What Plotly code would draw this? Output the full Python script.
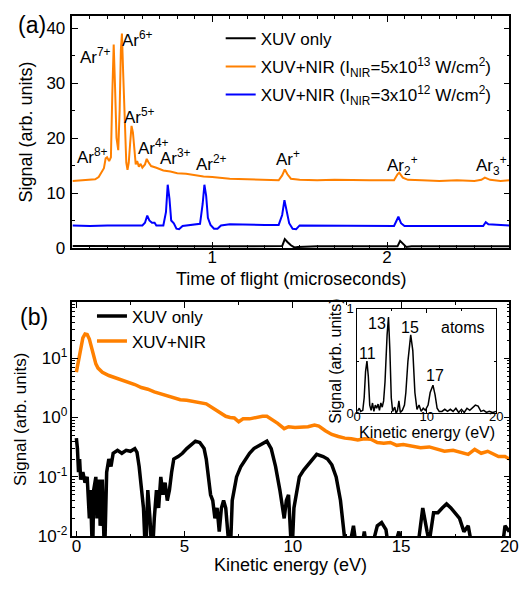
import plotly.graph_objects as go

# ---------------- (a) time-of-flight data ----------------
tof_orange_t = [0.20, 0.24, 0.28, 0.31, 0.33, 0.35, 0.365, 0.38, 0.39, 0.398, 0.41, 0.42, 0.428, 0.436, 0.443,
                0.452, 0.462, 0.47, 0.477, 0.483, 0.49, 0.50, 0.508, 0.515, 0.522, 0.53, 0.538, 0.546, 0.555,
                0.562, 0.57, 0.58, 0.59, 0.60, 0.615, 0.625, 0.635, 0.65, 0.68, 0.70, 0.72, 0.76, 0.80, 0.85,
                0.90, 0.95, 1.00, 1.05, 1.10, 1.20, 1.30, 1.38, 1.40, 1.415, 1.43, 1.45, 1.50, 1.60, 1.70,
                1.80, 1.90, 2.00, 2.04, 2.06, 2.07, 2.09, 2.12, 2.20, 2.30, 2.40, 2.50, 2.54, 2.56, 2.59, 2.65, 2.70]
tof_orange_v = [12.2, 12.3, 12.3, 12.4, 12.5, 12.9, 13.6, 14.5, 16.3, 16.5, 15.8, 16.5, 28.0, 37.0, 30.0,
                20.0, 17.8, 25.0, 36.0, 39.0, 32.0, 22.0, 15.5, 14.2, 15.5, 19.0, 22.2, 21.0, 17.5,
                15.2, 15.8, 14.8, 15.3, 14.6, 15.2, 16.2, 15.6, 14.9, 14.6, 14.4, 14.1, 13.9, 13.6, 13.5,
                13.2, 13.0, 12.9, 12.7, 12.6, 12.5, 12.4, 12.3, 13.2, 14.3, 13.4, 12.6, 12.4, 12.3, 12.4,
                12.3, 12.3, 12.3, 12.3, 13.4, 13.7, 12.8, 12.4, 12.3, 12.2, 12.3, 12.2, 12.4, 12.8, 12.4, 12.2, 12.3]

tof_blue_t = [0.20, 0.30, 0.40, 0.50, 0.60, 0.615, 0.628, 0.64, 0.655, 0.67, 0.68, 0.72, 0.735, 0.745, 0.755,
              0.765, 0.78, 0.795, 0.81, 0.83, 0.86, 0.90, 0.93, 0.945, 0.955, 0.965, 0.975, 0.99, 1.01, 1.03,
              1.05, 1.10, 1.20, 1.30, 1.38, 1.40, 1.413, 1.425, 1.44, 1.46, 1.48, 1.50, 1.60, 1.80, 2.04,
              2.055, 2.065, 2.08, 2.10, 2.30, 2.55, 2.565, 2.58, 2.70]
tof_blue_v = [4.1, 4.0, 4.1, 4.1, 4.1, 4.6, 5.9, 5.0, 4.6, 4.6, 4.1, 4.1, 6.5, 11.5, 9.0,
              5.0, 4.5, 3.5, 3.4, 4.0, 4.1, 4.2, 4.4, 8.0, 11.5, 9.5, 5.5, 4.2, 3.5, 3.5,
              4.1, 4.3, 4.2, 4.2, 4.2, 6.0, 8.7, 7.0, 4.5, 3.5, 3.4, 4.1, 4.1, 4.0, 4.0,
              5.0, 5.7, 4.5, 4.0, 4.0, 4.0, 4.7, 4.3, 4.1]

tof_black_t = [0.20, 0.50, 0.80, 1.10, 1.40, 1.415, 1.43, 1.45, 1.47, 1.49, 1.60, 1.90, 2.06, 2.075, 2.09,
               2.11, 2.14, 2.40, 2.70]
tof_black_v = [0.35, 0.30, 0.35, 0.30, 0.35, 1.6, 1.1, 0.5, 0.1, 0.2, 0.3, 0.3, 0.3, 1.3, 0.8,
               0.2, 0.3, 0.3, 0.3]

ion_labels = ["Ar<sup>8+</sup>", "Ar<sup>7+</sup>", "Ar<sup>6+</sup>", "Ar<sup>5+</sup>", "Ar<sup>4+</sup>",
              "Ar<sup>3+</sup>", "Ar<sup>2+</sup>", "Ar<sup>+</sup>", "Ar<sub>2</sub><sup>+</sup>",
              "Ar<sub>3</sub><sup>+</sup>"]
ion_label_t = [0.317, 0.333, 0.574, 0.585, 0.664, 0.792, 0.993, 1.434, 2.09, 2.60]
ion_label_v = [16.7, 35.0, 38.0, 24.0, 18.4, 16.6, 15.5, 16.4, 15.0, 15.0]

# ---------------- (b) photoelectron spectra ----------------
pes_orange_e = [0.0, 0.1, 0.2, 0.3, 0.4, 0.5, 0.6, 0.7, 0.8, 0.9, 1.0, 1.2, 1.5, 1.8, 2.1, 2.4, 2.7, 3.0, 3.3,
                3.6, 3.9, 4.2, 4.5, 4.8, 5.1, 5.4, 5.7, 6.0, 6.3, 6.6, 6.9, 7.1, 7.3, 7.5, 7.7, 8.0, 8.3, 8.6,
                8.8, 9.0, 9.3, 9.6, 9.8, 10.1, 10.4, 10.7, 11.0, 11.2, 11.5, 11.8, 12.1, 12.4, 12.7, 13.0,
                13.3, 13.6, 13.9, 14.2, 14.5, 14.8, 15.1, 15.5, 15.9, 16.3, 16.7, 17.0, 17.4, 17.8, 18.1,
                18.4, 18.7, 19.0, 19.3, 19.5, 19.8, 20.0]
pes_orange_v = [5.8, 9.0, 16.0, 22.0, 25.5, 25.0, 21.0, 15.0, 10.5, 8.0, 6.8, 5.8, 5.1, 4.7, 4.3, 3.9, 3.6, 3.2, 3.0,
                2.7, 2.5, 2.35, 2.2, 2.0, 1.95, 1.85, 1.8, 1.7, 1.45, 1.25, 1.05, 1.0, 0.98, 0.85, 0.95, 0.95, 1.0, 1.05,
                1.05, 0.95, 0.8, 0.65, 0.70, 0.68, 0.68, 0.70, 0.75, 0.72, 0.60, 0.52, 0.48, 0.45, 0.44, 0.42,
                0.44, 0.43, 0.38, 0.37, 0.38, 0.34, 0.35, 0.33, 0.31, 0.32, 0.29, 0.27, 0.28, 0.26, 0.24,
                0.29, 0.25, 0.27, 0.24, 0.22, 0.22, 0.20]

pes_black_e = [0.0, 0.05, 0.1, 0.15, 0.2, 0.3, 0.4, 0.5, 0.6, 0.65, 0.75, 0.8, 0.9, 0.95, 1.05, 1.1, 1.2, 1.3,
               1.4, 1.5, 1.6, 1.7, 1.9, 2.1, 2.3, 2.5, 2.7, 2.8, 2.9, 3.0, 3.1, 3.2, 3.3, 3.4, 3.5, 3.6, 3.7,
               3.8, 3.9, 4.0, 4.1, 4.2, 4.3, 4.4, 4.5, 4.7, 4.9, 5.1, 5.3, 5.5, 5.7, 5.9, 6.0, 6.1, 6.2, 6.3,
               6.4, 6.5, 6.6, 6.7, 6.8, 6.9, 7.0, 7.1, 7.2, 7.4, 7.6, 7.8, 8.0, 8.2, 8.5, 8.7, 8.8, 9.0, 9.2,
               9.4, 9.5, 9.6, 9.7, 9.8, 9.9, 9.95, 10.05, 10.15, 10.3, 10.5, 10.7, 10.9, 11.1, 11.4, 11.6,
               11.8, 12.0, 12.2, 12.35, 12.5, 12.8, 12.9, 13.1, 13.3, 13.5, 13.9, 14.1, 14.3, 14.5, 14.9,
               15.1, 15.6, 15.8, 16.0, 16.2, 16.3, 16.5, 16.7, 16.9, 17.1, 17.3, 17.5, 17.7, 17.9, 18.1,
               18.3, 18.6, 19.6, 19.8, 20.0]
pes_black_v = [0.45, 0.30, 0.12, 0.20, 0.09, 0.12, 0.08, 0.10, 0.02, 0.06, 0.004, 0.06, 0.10, 0.02, 0.09, 0.015, 0.09, 0.004,
               0.12, 0.20, 0.15, 0.25, 0.28, 0.25, 0.28, 0.27, 0.30, 0.26, 0.15, 0.06, 0.03, 0.004, 0.06, 0.02, 0.004, 0.02, 0.06,
               0.03, 0.10, 0.05, 0.08, 0.04, 0.06, 0.12, 0.20, 0.22, 0.25, 0.30, 0.35, 0.40, 0.38, 0.30, 0.20, 0.10, 0.05, 0.04,
               0.02, 0.03, 0.012, 0.03, 0.04, 0.03, 0.01, 0.004, 0.04, 0.10, 0.15, 0.20, 0.25, 0.30, 0.35, 0.38, 0.40, 0.30, 0.15,
               0.06, 0.035, 0.02, 0.04, 0.05, 0.01, 0.004, 0.03, 0.05, 0.10, 0.13, 0.16, 0.20, 0.24, 0.22, 0.20,
               0.16, 0.10, 0.04, 0.01, 0.004, 0.015, 0.008, 0.004, 0.012, 0.004, 0.015, 0.017, 0.013, 0.004, 0.012,
               0.004, 0.004, 0.008, 0.03, 0.012, 0.008, 0.025, 0.025, 0.03, 0.035, 0.03, 0.025, 0.02, 0.012, 0.015,
               0.006, 0.004, 0.004, 0.015, 0.012]

# ---------------- inset: atoms ----------------
atom_e = [0.0, 0.3, 0.5, 0.8, 1.0, 1.2, 1.4, 1.6, 1.8, 2.0, 2.2, 2.4, 2.6, 2.8, 3.0, 3.2, 3.4, 3.6, 3.8, 4.0,
          4.3, 4.5, 4.7, 4.9, 5.1, 5.4, 5.6, 5.8, 6.0, 6.2, 6.5, 6.8, 7.0, 7.3, 7.7, 8.0, 8.3, 8.6, 8.9,
          9.2, 9.5, 9.8, 10.2, 10.5, 10.9, 11.2, 11.5, 11.8, 12.2, 12.6, 13.0, 13.4, 13.8, 14.2, 14.6,
          15.0, 15.4, 15.8, 16.2, 16.6, 17.0, 17.4, 17.8, 18.2, 18.6, 19.0, 19.5, 20.0]
atom_v = [0.02, 0.05, 0.02, 0.03, 0.15, 0.40, 0.50, 0.35, 0.08, 0.03, 0.10, 0.02, 0.08, 0.05, 0.09, 0.03, 0.10, 0.06, 0.12, 0.30,
          0.75, 0.92, 0.60, 0.15, 0.02, 0.06, 0.00, 0.03, 0.12, 0.01, 0.03, 0.08, 0.20, 0.50, 0.75, 0.60, 0.20, 0.04, 0.08,
          0.02, 0.05, 0.03, 0.08, 0.20, 0.27, 0.18, 0.05, 0.02, 0.02, 0.04, 0.02, 0.04, 0.02, 0.05, 0.01,
          0.04, 0.01, 0.05, 0.03, 0.06, 0.08, 0.07, 0.02, 0.03, 0.01, 0.02, 0.01, 0.02]
harm_labels = ["11", "13", "15", "17", "atoms"]
harm_label_e = [1.5, 2.8, 7.6, 11.2, 15.2]
harm_label_v = [0.57, 0.86, 0.82, 0.36, 0.82]

FONT = "Liberation Sans, Arial, sans-serif"
ORANGE = "#ff8000"
BLUE = "#0000ff"

# The page body keeps its default 8 px margin, so the figure is sized to fill the
# rest of the 532x589 window; helpers convert window pixels to paper fractions.
OFF = 8
W, H = 532 - OFF, 589 - OFF


def px(xw):
    return (xw - OFF) / W


def py(yw):
    return 1 - (yw - OFF) / H


fig = go.Figure()
fig.add_trace(go.Scatter(x=tof_black_t, y=tof_black_v, mode="lines", line=dict(color="black", width=2),
                         name="XUV only", legend="legend", legendgroup="a1", xaxis="x", yaxis="y"))
fig.add_trace(go.Scatter(x=tof_orange_t, y=tof_orange_v, mode="lines", line=dict(color=ORANGE, width=2),
                         name="XUV+NIR (I<sub>NIR</sub>=5x10<sup>13</sup> W/cm<sup>2</sup>)",
                         legend="legend", legendgroup="a2", xaxis="x", yaxis="y"))
fig.add_trace(go.Scatter(x=tof_blue_t, y=tof_blue_v, mode="lines", line=dict(color=BLUE, width=2),
                         name="XUV+NIR (I<sub>NIR</sub>=3x10<sup>12</sup> W/cm<sup>2</sup>)",
                         legend="legend", legendgroup="a3", xaxis="x", yaxis="y"))
fig.add_trace(go.Scatter(x=pes_black_e, y=pes_black_v, mode="lines", line=dict(color="black", width=3.5),
                         name="XUV only", legend="legend2", legendgroup="b1", xaxis="x2", yaxis="y2"))
fig.add_trace(go.Scatter(x=pes_orange_e, y=pes_orange_v, mode="lines", line=dict(color=ORANGE, width=3.5),
                         name="XUV+NIR", legend="legend2", legendgroup="b2", xaxis="x2", yaxis="y2"))
fig.add_trace(go.Scatter(x=atom_e, y=atom_v, mode="lines", line=dict(color="black", width=1.5),
                         showlegend=False, xaxis="x3", yaxis="y3"))

axis_common = dict(showline=True, linecolor="black", linewidth=1.5, mirror="ticks", ticks="inside",
                   tickcolor="black", showgrid=False, zeroline=False, tickfont=dict(family=FONT, size=17, color="black"))
inset_common = {**axis_common, "linewidth": 1, "tickfont": dict(family=FONT, size=13, color="black")}

XD = [px(70), px(518)]
fig.update_layout(
    width=W, height=H, margin=dict(l=0, r=0, t=0, b=0),
    paper_bgcolor="white", plot_bgcolor="white",
    font=dict(family=FONT, color="black"),
    xaxis=dict(domain=XD, anchor="y", range=[0.2, 2.7], tickvals=[1, 2], ticklen=6, ticklabelstandoff=-7,
               minor=dict(dtick=0.1, tick0=0, ticks="inside", ticklen=3, tickcolor="black"), **axis_common),
    yaxis=dict(domain=[py(248), py(9)], anchor="x", range=[0, 42.2], dtick=10, ticklen=6,
               ticklabelstandoff=2,
               minor=dict(dtick=5, ticks="inside", ticklen=3, tickcolor="black"),
               title=dict(text="Signal (arb. units)", font=dict(size=18), standoff=9), **axis_common),
    xaxis2=dict(domain=XD, anchor="y2", range=[-0.18, 20], dtick=5, ticklen=6, ticklabelstandoff=-6,
                minor=dict(dtick=2.5, ticks="inside", ticklen=3, tickcolor="black"), **axis_common),
    yaxis2=dict(domain=[py(545), py(304)], anchor="x2", type="log", range=[-2, 1.94],
                tickvals=[0.01, 0.1, 1, 10], ticktext=["10<sup>-2</sup>", "10<sup>-1</sup>", "10<sup>0</sup>", "10<sup>1</sup>"],
                ticklen=6,
                minor=dict(tickmode="array", ticks="inside", ticklen=3, tickcolor="black",
                           tickvals=[m * 10 ** k for k in (-2, -1, 0, 1) for m in range(2, 10)]),
                title=dict(text="Signal (arb. units)", font=dict(size=17), standoff=7), **axis_common),
    xaxis3=dict(domain=[px(362), px(504.5)], anchor="y3", range=[0, 20], dtick=10, ticklen=4,
                ticklabelstandoff=-9,
                minor=dict(dtick=5, ticks="inside", ticklen=2, tickcolor="black"), **inset_common),
    yaxis3=dict(domain=[py(418.5), py(310.5)], anchor="x3", range=[0, 1], dtick=1, ticklen=4,
                minor=dict(dtick=0.5, ticks="inside", ticklen=2, tickcolor="black"),
                title=dict(text="Signal (arb. units)", font=dict(size=16), standoff=0), **inset_common),
    legend=dict(x=px(222), y=py(14), xanchor="left", yanchor="top", bgcolor="rgba(0,0,0,0)",
                font=dict(family=FONT, size=17, color="black"), traceorder="grouped", tracegroupgap=3),
    legend2=dict(x=px(90), y=py(300), xanchor="left", yanchor="top", bgcolor="rgba(0,0,0,0)",
                 font=dict(family=FONT, size=17, color="black"), traceorder="grouped", tracegroupgap=0),
    showlegend=True,
)

for txt, t, v in zip(ion_labels, ion_label_t, ion_label_v):
    fig.add_annotation(x=t, y=v, xref="x", yref="y", text=txt, showarrow=False,
                       font=dict(family=FONT, size=17, color="black"))
for txt, e, v in zip(harm_labels, harm_label_e, harm_label_v):
    fig.add_annotation(x=e, y=v, xref="x3", yref="y3", text=txt, showarrow=False,
                       font=dict(family=FONT, size=16, color="black"))

# x-axis titles placed as in the original (close under the tick labels)
fig.add_annotation(x=0.5, y=py(280), xref="x domain", yref="paper", text="Time of flight (microseconds)",
                   showarrow=False, xanchor="center", yanchor="middle", font=dict(family=FONT, size=18, color="black"))
fig.add_annotation(x=0.5, y=py(575), xref="x2 domain", yref="paper", text="Kinetic energy (eV)",
                   showarrow=False, xanchor="center", yanchor="middle", font=dict(family=FONT, size=18, color="black"))
fig.add_annotation(x=0.5, y=py(438), xref="x3 domain", yref="paper", text="Kinetic energy (eV)",
                   showarrow=False, xanchor="center", yanchor="middle", font=dict(family=FONT, size=16, color="black"))

fig.add_annotation(x=px(28), y=py(18), xref="paper", yref="paper", text="(a)", showarrow=False,
                   xanchor="center", yanchor="middle", font=dict(family=FONT, size=23, color="black"))
fig.add_annotation(x=px(31), y=py(319), xref="paper", yref="paper", text="(b)", showarrow=False,
                   xanchor="center", yanchor="middle", font=dict(family=FONT, size=23, color="black"))

fig.write_html("out.html", config={"displayModeBar": False})
